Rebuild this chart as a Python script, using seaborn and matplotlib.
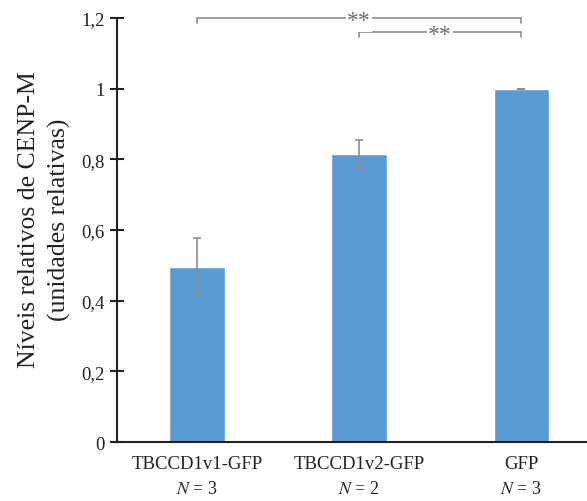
import numpy as np
import pandas as pd
import matplotlib
matplotlib.use("Agg")
import matplotlib.pyplot as plt
import seaborn as sns
from matplotlib.ticker import FuncFormatter
import matplotlib.transforms as mtransforms

# data
conditions = ["TBCCD1v1-GFP", "TBCCD1v2-GFP", "GFP"]
levels = [0.495, 0.814, 1.0]
errors = [0.083, 0.041, 0.0]
n_labels = ["3", "2", "3"]
# significance brackets: (from, to, y level, label)
brackets = [(0, 2, 1.2, "**"), (1, 2, 1.16, "**")]

df = pd.DataFrame({"cond": conditions, "level": levels, "err": errors})

sns.set_style("white")
plt.rcParams["font.family"] = ["Liberation Serif", "DejaVu Serif"]
plt.rcParams["mathtext.fontset"] = "stix"

fig = plt.figure(figsize=(5.87, 5.02), dpi=100)
ax = fig.add_axes([0.1993, 0.1175, 0.8007, 0.8446])

sns.barplot(data=df, x="cond", y="level", color="#5B9BD5", width=0.34,
            errorbar=None, saturation=1, ax=ax)
ax.errorbar(np.arange(len(df)), df["level"], yerr=df["err"], fmt="none",
            ecolor="#8c8c8c", elinewidth=1.2, capsize=3, capthick=1.2)

ax.set_xlim(-0.494, 2.407)
ax.set_ylim(0, 1.2)
ax.set_yticks(np.arange(0, 1.21, 0.2))
ax.yaxis.set_major_formatter(FuncFormatter(
    lambda v, p: ("%g" % round(v, 1)).replace(".", ",")))
ax.tick_params(axis="y", direction="inout", length=10, width=1.5,
               labelsize=13.5, left=True, pad=4, colors="#222222")
ax.tick_params(axis="x", bottom=False, labelsize=13.5, pad=6, colors="#222222")
ax.set_xlabel("")
ax.set_ylabel("")

# two-line y label, placed line by line
fig.text(0.050, 0.562, "Níveis relativos de CENP-M", rotation=90,
         ha="center", va="center", fontsize=18.5, color="#222222")
fig.text(0.101, 0.562, "(unidades relativas)", rotation=90,
         ha="center", va="center", fontsize=18.5, color="#222222")

for s in ["top", "right"]:
    ax.spines[s].set_visible(False)
for s in ["left", "bottom"]:
    ax.spines[s].set_color("#222222")
    ax.spines[s].set_linewidth(1.5)

# N labels under the categories
trans = mtransforms.blended_transform_factory(ax.transData, ax.transAxes)
for i, n in enumerate(n_labels):
    ax.text(i, -0.11, "$N$ = " + n, transform=trans, ha="center",
            va="center", fontsize=13, color="#222222")

# significance brackets
for x0, x1, y, lab in brackets:
    tick = 0.015
    xm = (x0 + x1) / 2
    ax.plot([x0, x0, x1, x1], [y - tick, y, y, y - tick], color="#8c8c8c",
            lw=1.2, clip_on=False, zorder=3)
    ax.text(xm, y - 0.008, lab, ha="center", va="center", fontsize=17,
            color="#6e6e6e", clip_on=False, zorder=4,
            bbox=dict(fc="white", ec="none", pad=0.5))

fig.savefig("out.png", dpi=100)
